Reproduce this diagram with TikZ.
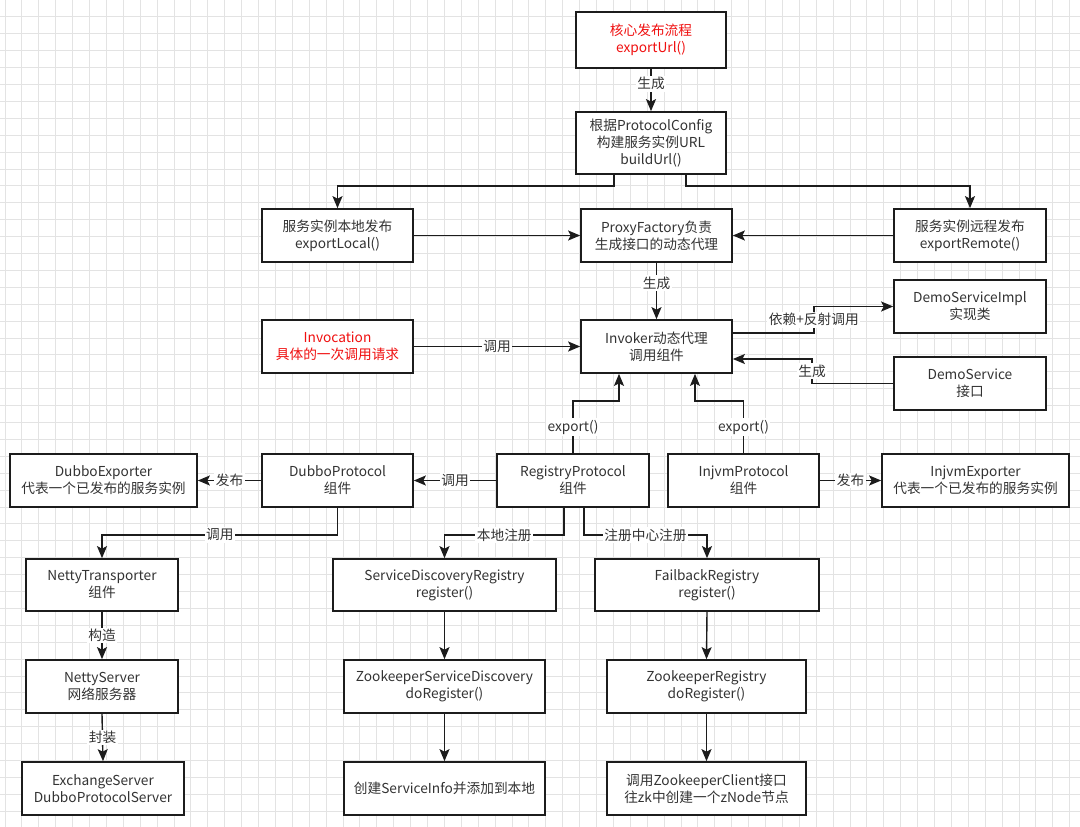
\documentclass[tikz,border=0pt]{standalone}
\usepackage{fontspec}
\setmainfont{Noto Sans CJK SC}
\usetikzlibrary{arrows.meta}
\definecolor{gridc}{HTML}{E3E3E3}
\definecolor{txt}{HTML}{333333}
\definecolor{redt}{HTML}{F01010}
\definecolor{edge}{HTML}{1C1C1C}
\tikzset{
  box/.style={draw=edge, line width=1.7pt, fill=white, align=center, inner sep=0pt,
    text=txt, font=\fontsize{13.7}{17}\selectfont},
  arr/.style={draw=edge, line width=1.4pt, -{Stealth[length=12pt,width=10pt,inset=2.5pt]}},
  lbl/.style={fill=white, inner sep=1.5pt, text=txt, font=\fontsize{13.7}{15}\selectfont},
}
\begin{document}
\begin{tikzpicture}[x=1pt,y=1pt]
\useasboundingbox (0,0) rectangle (1080,-827);
\fill[white] (0,0) rectangle (1080,-827);
\foreach \i in {0,...,63} {\draw[gridc, line width=0.9pt] (5+\i*16.9,0) -- (5+\i*16.9,-827);}
\foreach \j in {1,...,48} {\draw[gridc, line width=0.9pt] (0,-\j*16.9) -- (1080,-\j*16.9);}

% boxes
\node[box, minimum width=150pt, minimum height=56pt, text=redt] (b1) at (651,-40) {核心发布流程\\exportUrl()};
\node[box, minimum width=150pt, minimum height=62pt] (b2) at (651,-143) {根据ProtocolConfig\\构建服务实例URL\\buildUrl()};
\node[box, minimum width=151pt, minimum height=53pt] (b3) at (337.5,-235.5) {服务实例本地发布\\exportLocal()};
\node[box, minimum width=151pt, minimum height=53pt] (b4) at (656.5,-235.5) {ProxyFactory负责\\生成接口的动态代理};
\node[box, minimum width=152pt, minimum height=53pt] (b5) at (970,-235.5) {服务实例远程发布\\exportRemote()};
\node[box, minimum width=152pt, minimum height=53pt] (b6) at (970,-306.5) {DemoServiceImpl\\实现类};
\node[box, minimum width=151pt, minimum height=53pt, text=redt] (b7) at (337.5,-346.5) {Invocation\\具体的一次调用请求};
\node[box, minimum width=151pt, minimum height=53pt] (b8) at (656.5,-346.5) {Invoker动态代理\\调用组件};
\node[box, minimum width=152pt, minimum height=53pt] (b9) at (970,-383.5) {DemoService\\接口};
\node[box, minimum width=187pt, minimum height=53pt] (b10) at (103.5,-480.5) {DubboExporter\\代表一个已发布的服务实例};
\node[box, minimum width=151pt, minimum height=53pt] (b11) at (337.5,-480.5) {DubboProtocol\\组件};
\node[box, minimum width=152pt, minimum height=53pt] (b12) at (573,-480.5) {RegistryProtocol\\组件};
\node[box, minimum width=151pt, minimum height=53pt] (b13) at (743.5,-480.5) {InjvmProtocol\\组件};
\node[box, minimum width=187pt, minimum height=53pt] (b14) at (975.5,-480.5) {InjvmExporter\\代表一个已发布的服务实例};
\node[box, minimum width=152pt, minimum height=52pt] (b15) at (102,-585) {NettyTransporter\\组件};
\node[box, minimum width=223pt, minimum height=52pt] (b16) at (444.5,-585) {ServiceDiscoveryRegistry\\register()};
\node[box, minimum width=224pt, minimum height=52pt] (b17) at (707,-585) {FailbackRegistry\\register()};
\node[box, minimum width=152pt, minimum height=53pt] (b18) at (102,-686.5) {NettyServer\\网络服务器};
\node[box, minimum width=201pt, minimum height=53pt] (b19) at (444.5,-686.5) {ZookeeperServiceDiscovery\\doRegister()};
\node[box, minimum width=199pt, minimum height=53pt] (b20) at (706.5,-686.5) {ZookeeperRegistry\\doRegister()};
\node[box, minimum width=162pt, minimum height=53pt] (b21) at (103,-788.5) {ExchangeServer\\DubboProtocolServer};
\node[box, minimum width=201pt, minimum height=53pt] (b22) at (444.5,-788.5) {创建ServiceInfo并添加到本地};
\node[box, minimum width=199pt, minimum height=53pt] (b23) at (706.5,-788.5) {调用ZookeeperClient接口\\往zk中创建一个zNode节点};

% connectors
\draw[arr] (b1.south) -- node[lbl,pos=0.35]{生成} (b2.north);
\draw[arr] ([xshift=-37pt]b2.south) -- ++(0,-11) -| (b3.north);
\draw[arr] ([xshift=35pt]b2.south) -- ++(0,-11) -| (b5.north);
\draw[arr] (b3.east) -- (b4.west);
\draw[arr] (b5.west) -- (b4.east);
\draw[arr] (b4.south) -- node[lbl,pos=0.36]{生成} (b8.north);
\draw[arr] (b7.east) -- node[lbl,midway]{调用} (b8.west);
\draw[arr] ([yshift=13.5pt]b8.east) -- ++(81,0) |- node[lbl,pos=0.25]{依赖+反射调用} (b6.west);
\draw[arr] (b9.west) -- ++(-81,0) |- node[lbl,pos=0.25]{生成} ([yshift=-12.5pt]b8.east);
\draw[arr] (b12.north) -- node[lbl,midway]{export()} ++(0,52) -| ([xshift=-37.5pt]b8.south);
\draw[arr] (b13.north) -- node[lbl,midway]{export()} ++(0,52) -| ([xshift=38.5pt]b8.south);
\draw[arr] (b12.west) -- node[lbl,midway]{调用} (b11.east);
\draw[arr] (b11.west) -- node[lbl,midway]{发布} (b10.east);
\draw[arr] (b13.east) -- node[lbl,midway]{发布} (b14.west);
\draw[arr] (b11.south) -- ++(0,-27) -| node[lbl,pos=0.25]{调用} (b15.north);
\draw[arr] ([xshift=-9pt]b12.south) -- ++(0,-27) -| node[lbl,pos=0.25]{本地注册} (b16.north);
\draw[arr] ([xshift=11pt]b12.south) -- ++(0,-27) -| node[lbl,pos=0.25]{注册中心注册} (b17.north);
\draw[arr] (b15.south) -- node[lbl,midway]{构造} (b18.north);
\draw[arr] (b18.south) -- node[lbl,midway]{封装} (b21.north);
\draw[arr] (b16.south) -- (b19.north);
\draw[arr] (b19.south) -- (b22.north);
\draw[arr] (b17.south) -- (b20.north);
\draw[arr] (b20.south) -- (b23.north);
\end{tikzpicture}
\end{document}
